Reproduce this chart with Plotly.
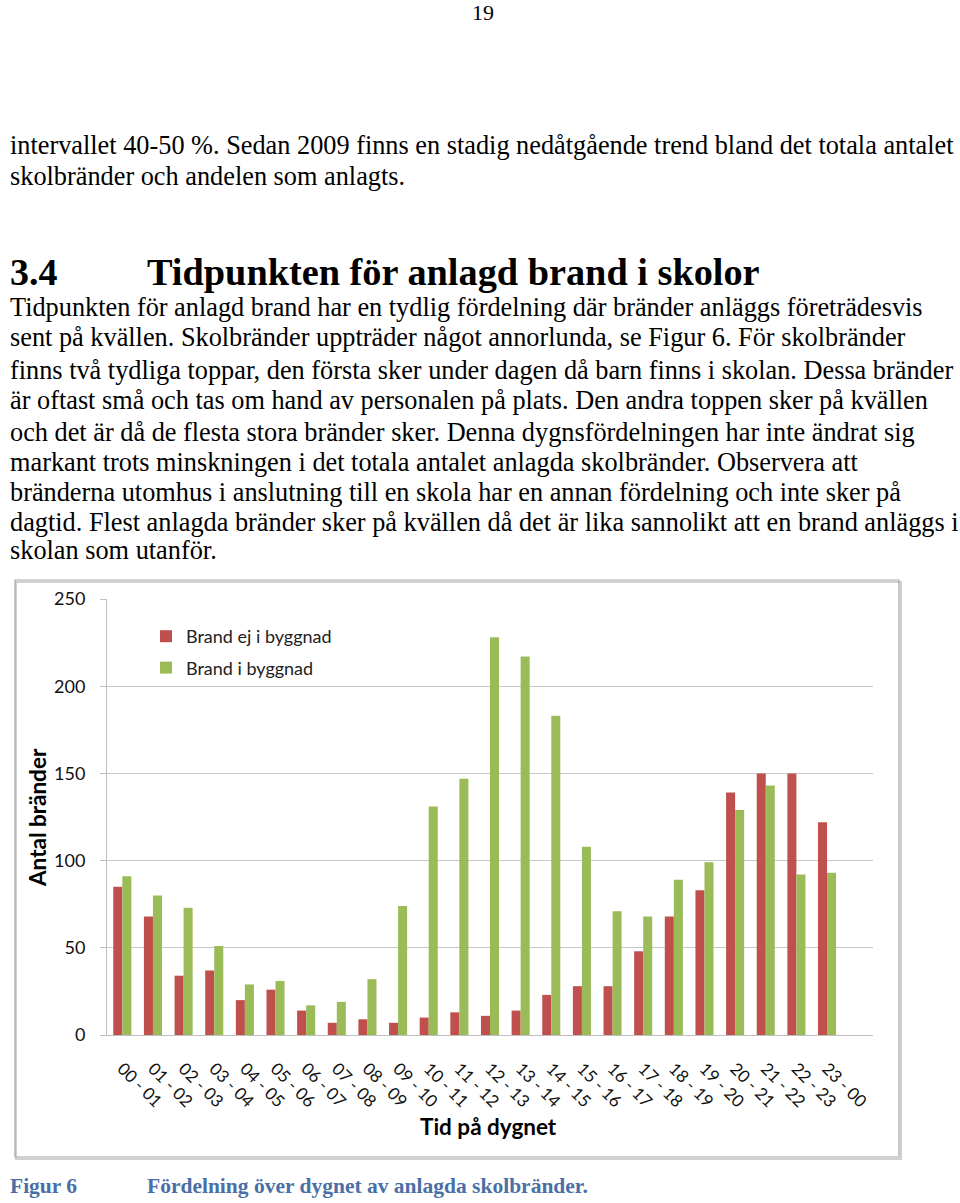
import plotly.graph_objects as go

W, H = 960, 1203

hours = ["00 - 01", "01 - 02", "02 - 03", "03 - 04", "04 - 05", "05 - 06", "06 - 07", "07 - 08",
         "08 - 09", "09 - 10", "10 - 11", "11 - 12", "12 - 13", "13 - 14", "14 - 15", "15 - 16",
         "16 - 17", "17 - 18", "18 - 19", "19 - 20", "20 - 21", "21 - 22", "22 - 23", "23 - 00"]
ej_i_byggnad = [85, 68, 34, 37, 20, 26, 14, 7, 9, 7, 10, 13, 11, 14, 23, 28, 28, 48, 68, 83, 139, 150, 150, 122]
i_byggnad = [91, 80, 73, 51, 29, 31, 17, 19, 32, 74, 131, 147, 228, 217, 183, 108, 71, 68, 89, 99, 129, 143, 92, 93]
y_ticks = [0, 50, 100, 150, 200, 250]

RED = "#C0504D"
GREEN = "#9BBB59"
CHART_FONT = "Lato, 'Open Sans', sans-serif"
SERIF = "'Liberation Serif', 'Times New Roman', serif"


def px(x):
    return x / W


def py(y):
    return 1 - y / H


fig = go.Figure()
fig.add_trace(go.Bar(x=hours, y=ej_i_byggnad, name="Brand ej i byggnad", marker_color=RED,
                     marker_line_width=0, legendgroup="a"))
fig.add_trace(go.Bar(x=hours, y=i_byggnad, name="Brand i byggnad", marker_color=GREEN,
                     marker_line_width=0, legendgroup="b"))

fig.update_layout(
    width=W, height=H,
    margin=dict(l=0, r=0, t=0, b=0),
    paper_bgcolor="white", plot_bgcolor="white",
    barmode="group", bargap=0.41, bargroupgap=0,
    showlegend=True,
    legend=dict(x=px(146), y=py(618), xanchor="left", yanchor="top",
                font=dict(family=CHART_FONT, size=18, color="#222"),
                bgcolor="rgba(0,0,0,0)", tracegroupgap=5, itemwidth=30),
    font=dict(family=CHART_FONT),
)

fig.update_xaxes(
    domain=[px(107), px(873)],
    type="category",
    categoryorder="array", categoryarray=hours,
    range=[-0.5, 24.5],
    tickangle=45,
    tickfont=dict(family=CHART_FONT, size=17, color="#111"),
    ticklabelstandoff=16,
    showline=True, linecolor="#BFBFBF", linewidth=1,
    showgrid=False, ticks="",
    automargin=False,
)
fig.update_yaxes(
    domain=[py(1035), py(599)],
    range=[0, 250],
    tickvals=y_ticks,
    tickfont=dict(family=CHART_FONT, size=18, color="#111"),
    ticklabelstandoff=11,
    showgrid=True, gridcolor="#C8C8C8", gridwidth=1,
    showline=True, linecolor="#BFBFBF", linewidth=1,
    ticks="outside", ticklen=6, tickcolor="#BFBFBF",
    zeroline=False,
    automargin=False,
)

# chart border
fig.add_shape(type="rect", xref="paper", yref="paper",
              x0=px(16), x1=px(901), y0=py(1159), y1=py(582),
              line=dict(color="#D0D0D0", width=2), layer="below")
fig.add_shape(type="rect", xref="paper", yref="paper",
              x0=px(15), x1=px(899), y0=py(1157), y1=py(580),
              line=dict(color="#A6A6A6", width=1.2), layer="below")

annotations = []


def text(x, y, s, size, family=SERIF, bold=False, color="black", xanchor="left", angle=0):
    if bold:
        s = "<b>" + s + "</b>"
    annotations.append(dict(x=px(x), y=py(y), xref="paper", yref="paper", text=s, showarrow=False,
                            xanchor=xanchor, yanchor="middle", textangle=angle,
                            font=dict(family=family, size=size, color=color)))


text(483, 12, "19", 22, xanchor="center")

BODY = 26.3
body1 = [
    (145, "intervallet 40-50 %. Sedan 2009 finns en stadig nedåtgående trend bland det totala antalet"),
    (176, "skolbränder och andelen som anlagts."),
]
for y, s in body1:
    text(8, y, s, BODY)

text(8, 272, "3.4", 38, bold=True)
text(145, 272, "Tidpunkten för anlagd brand i skolor", 38.3, bold=True)

body2 = [
    (307, "Tidpunkten för anlagd brand har en tydlig fördelning där bränder anläggs företrädesvis"),
    (338, "sent på kvällen. Skolbränder uppträder något annorlunda, se Figur 6. För skolbränder"),
    (370, "finns två tydliga toppar, den första sker under dagen då barn finns i skolan. Dessa bränder"),
    (401, "är oftast små och tas om hand av personalen på plats. Den andra toppen sker på kvällen"),
    (432, "och det är då de flesta stora bränder sker. Denna dygnsfördelningen har inte ändrat sig"),
    (462, "markant trots minskningen i det totala antalet anlagda skolbränder. Observera att"),
    (492, "bränderna utomhus i anslutning till en skola har en annan fördelning och inte sker på"),
    (522, "dagtid. Flest anlagda bränder sker på kvällen då det är lika sannolikt att en brand anläggs i"),
    (551, "skolan som utanför."),
]
for y, s in body2:
    text(8, y, s, BODY)

# axis titles
text(37, 818, "Antal bränder", 22.5, family=CHART_FONT, bold=True, xanchor="center", angle=-90)
text(488, 1126, "Tid på dygnet", 22.5, family=CHART_FONT, bold=True, xanchor="center")

# caption
BLUE = "#4A6FA5"
text(8, 1186, "Figur 6", 21.5, bold=True, color=BLUE)
text(145, 1186, "Fördelning över dygnet av anlagda skolbränder.", 21.5, bold=True, color=BLUE)

fig.update_layout(annotations=annotations)

fig.write_html("out.html", config={"displayModeBar": False},
               post_script="document.body.style.margin='0';document.body.style.padding='0';")
